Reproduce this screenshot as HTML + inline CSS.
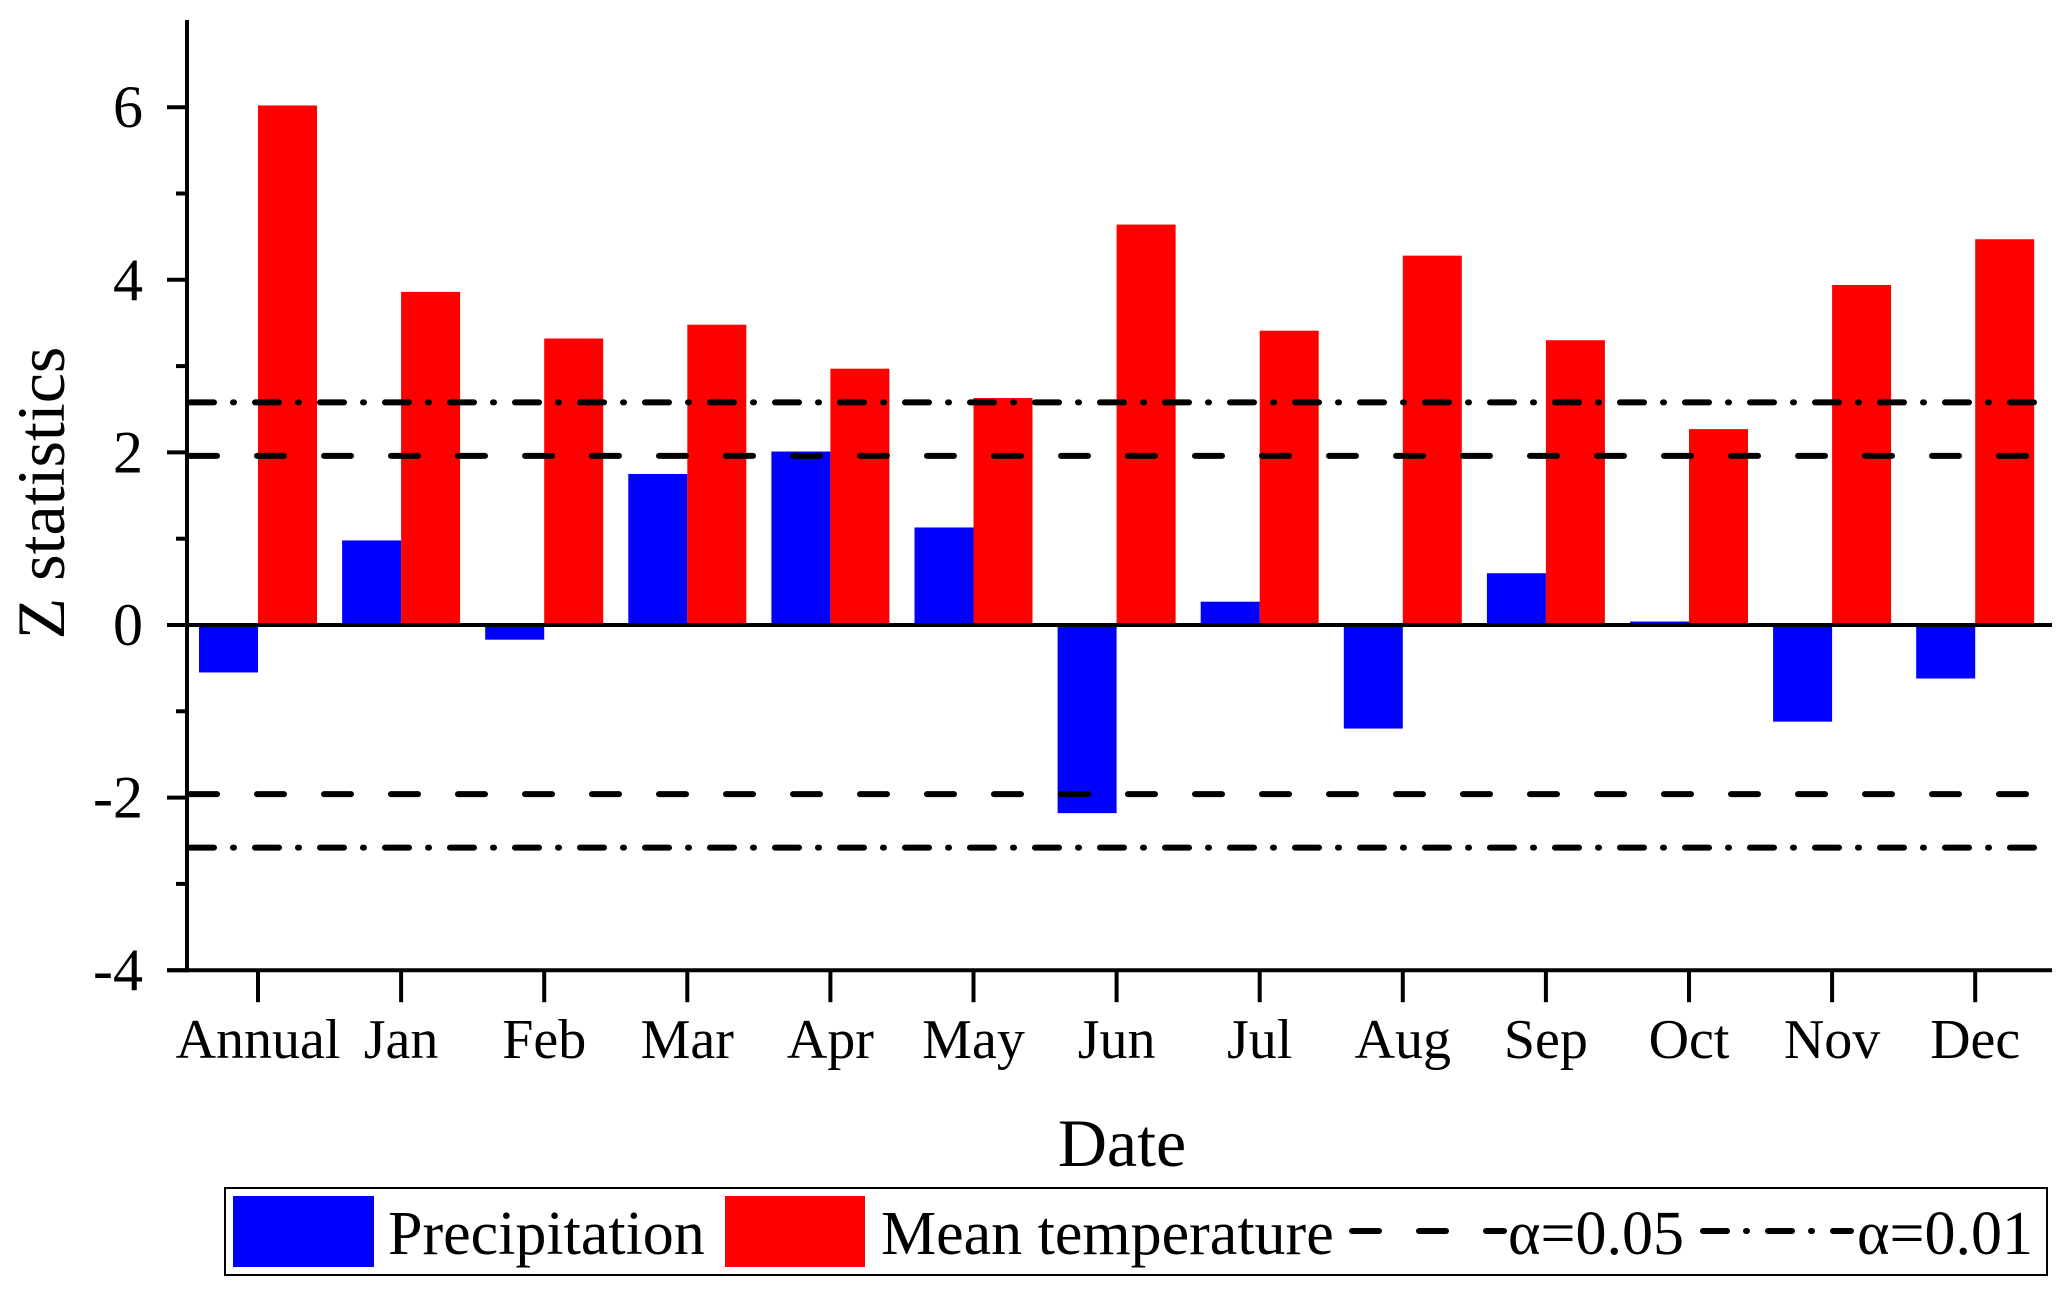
<!DOCTYPE html>
<html><head><meta charset="utf-8"><style>
body{margin:0;background:#fff}
svg text{font-family:"Liberation Serif",serif;fill:#000}
</style></head><body>
<svg id="chart" width="2067" height="1288" viewBox="0 0 2067 1288" xmlns="http://www.w3.org/2000/svg">
<g id="plot"></g>
<text x="0" y="0" font-size="68" text-anchor="middle" transform="translate(64,493) rotate(-90)">Z statistics</text>
<text x="1122" y="1166" font-size="68" text-anchor="middle">Date</text>
<g>
<rect x="225" y="1188" width="1822" height="87" fill="#fff" stroke="#000" stroke-width="2"/>
<rect x="233" y="1196" width="141" height="71" fill="#0000ff"/>
<text x="388" y="1254" font-size="62">Precipitation</text>
<rect x="725" y="1196" width="140" height="71" fill="#ff0000"/>
<text x="881" y="1254" font-size="62">Mean temperature</text>
<line x1="1352" y1="1231" x2="1504" y2="1231" stroke="#000" stroke-width="6" stroke-linecap="round" stroke-dasharray="27,40"/>
<text x="1508" y="1254" font-size="62">α=0.05</text>
<line x1="1703" y1="1231" x2="1851" y2="1231" stroke="#000" stroke-width="6" stroke-linecap="round" stroke-dasharray="24,19,1,21"/>
<text x="1857" y="1254" font-size="62">α=0.01</text>
</g>
</svg>
<script>
const categories=["Annual","Jan","Feb","Mar","Apr","May","Jun","Jul","Aug","Sep","Oct","Nov","Dec"];
const precipitation=[-0.55,0.98,-0.17,1.75,2.01,1.13,-2.18,0.27,-1.2,0.6,0.04,-1.12,-0.62];
const temperature=[6.02,3.86,3.32,3.48,2.97,2.63,4.64,3.41,4.28,3.3,2.27,3.94,4.47];
const yTicks=[-4,-2,0,2,4,6];
const minorTicks=[-3,-1,1,3,5];
const sig05=1.96;
const sig01=2.58;
const ns="http://www.w3.org/2000/svg";
const g=document.getElementById('plot');
const X0=187,X1=2052,Ytop=20;
function y(v){return 625-v*86.3;}
function x(i){return 258+i*143.1;}
function mk(t,a){const e=document.createElementNS(ns,t);for(const k in a)e.setAttribute(k,a[k]);g.appendChild(e);return e;}
const bw=59;
categories.forEach((c,i)=>{
 const p=precipitation[i];
 const b=mk('rect',{x:x(i)-bw,y:Math.min(y(p),y(0)),width:bw,height:Math.abs(y(p)-y(0)),fill:'#0000ff'});
 
 
 const t=temperature[i];
 const r=mk('rect',{x:x(i),y:Math.min(y(t),y(0)),width:bw,height:Math.abs(y(t)-y(0)),fill:'#ff0000'});
 
 
 const tk=mk('line',{x1:x(i),x2:x(i),y1:y(-4),y2:y(-4)+32,stroke:'#000','stroke-width':4});
 
 
 const l=mk('text',{x:x(i),y:1058,'font-size':56,'text-anchor':'middle'});
 l.textContent=c;
 
 
});
[[sig05,'27,40'],[-sig05,'27,40'],[sig01,'24,19,1,21'],[-sig01,'24,19,1,21']].forEach(s=>{
 const ln=mk('line',{x1:X0+3,x2:X1,y1:y(s[0]),y2:y(s[0]),stroke:'#000','stroke-width':6,'stroke-linecap':'round','stroke-dasharray':s[1]});
 
 
});
const z=mk('line',{x1:X0,x2:X1,y1:y(0),y2:y(0),stroke:'#000','stroke-width':4});


const ya=mk('line',{x1:X0,x2:X0,y1:Ytop,y2:y(-4)+2,stroke:'#000','stroke-width':4});


const xa=mk('line',{x1:X0-20,x2:X1,y1:y(-4),y2:y(-4),stroke:'#000','stroke-width':4});


yTicks.forEach(v=>{
 const t=mk('line',{x1:X0-20,x2:X0,y1:y(v),y2:y(v),stroke:'#000','stroke-width':4});
 
 
 const l=mk('text',{x:143,y:y(v)+20,'font-size':60,'text-anchor':'end'});
 l.textContent=v;
 
 
});
minorTicks.forEach(v=>{
 const t=mk('line',{x1:X0-11,x2:X0,y1:y(v),y2:y(v),stroke:'#000','stroke-width':4});
 
 
});
</script>
</body></html>
